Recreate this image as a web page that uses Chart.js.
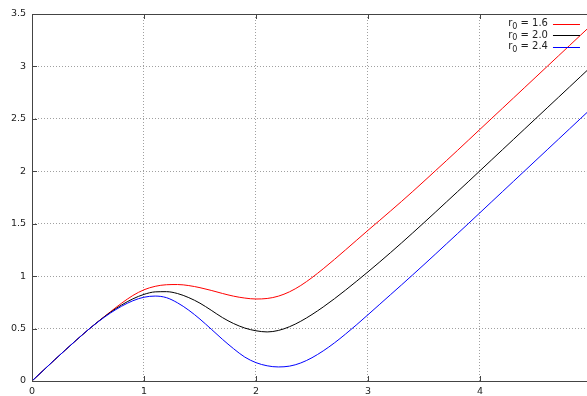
<!DOCTYPE html>
<html>
<head>
<meta charset="utf-8">
<script src="https://cdn.jsdelivr.net/npm/chart.js@4/dist/chart.umd.min.js"></script>
<style>
html, body { margin: 0; padding: 0; background: #fff; overflow: hidden; }
#wrap { width: 600px; height: 396px; }
</style>
</head>
<body>
<div id="wrap"><canvas id="chart" width="600" height="396"></canvas></div>
<script>
// x positions (step 0.1)
const xValues = [0, 0.1, 0.2, 0.3, 0.4, 0.5, 0.6, 0.7, 0.8, 0.9,
    1.0, 1.1, 1.2, 1.3, 1.4, 1.5, 1.6, 1.7, 1.8, 1.9,
    2.0, 2.1, 2.2, 2.3, 2.4, 2.5, 2.6, 2.7, 2.8, 2.9,
    3.0, 3.1, 3.2, 3.3, 3.4, 3.5, 3.6, 3.7, 3.8, 3.9,
    4.0, 4.1, 4.2, 4.3, 4.4, 4.5, 4.6, 4.7, 4.8, 4.9, 5.0];

const seriesR16 = [0, 0.1, 0.2, 0.298, 0.394, 0.487, 0.575, 0.66, 0.742, 0.815,
    0.87, 0.903, 0.918, 0.92, 0.91, 0.89, 0.864, 0.835, 0.809, 0.791,
    0.782, 0.787, 0.809, 0.851, 0.911, 0.986, 1.07, 1.159, 1.251, 1.344,
    1.437, 1.528, 1.62, 1.713, 1.808, 1.905, 2.003, 2.101, 2.2, 2.3,
    2.4, 2.5, 2.6, 2.7, 2.8, 2.9, 3.0, 3.1, 3.2, 3.3, 3.4];

const seriesR20 = [0, 0.1, 0.2, 0.298, 0.394, 0.487, 0.575, 0.655, 0.725, 0.783,
    0.826, 0.85, 0.852, 0.834, 0.795, 0.742, 0.675, 0.605, 0.548, 0.505,
    0.479, 0.468, 0.482, 0.518, 0.57, 0.634, 0.706, 0.784, 0.867, 0.953,
    1.041, 1.131, 1.223, 1.317, 1.413, 1.51, 1.608, 1.707, 1.806, 1.905,
    2.005, 2.105, 2.205, 2.305, 2.405, 2.505, 2.605, 2.705, 2.805, 2.905, 3.005];

const seriesR24 = [0, 0.1, 0.2, 0.298, 0.394, 0.487, 0.572, 0.648, 0.713, 0.765,
    0.799, 0.81, 0.795, 0.745, 0.675, 0.59, 0.495, 0.398, 0.308, 0.228,
    0.175, 0.145, 0.134, 0.142, 0.172, 0.222, 0.287, 0.363, 0.448, 0.538,
    0.632, 0.727, 0.822, 0.917, 1.013, 1.11, 1.208, 1.307, 1.406, 1.505,
    1.605, 1.705, 1.805, 1.905, 2.005, 2.105, 2.205, 2.305, 2.405, 2.505, 2.605];

const seriesLabels = ['r\u2080 = 1.6', 'r\u2080 = 2.0', 'r\u2080 = 2.4'];
const seriesColors = ['#ff0000', '#000000', '#0000ff'];
const xTicks = [0, 1, 2, 3, 4, 5];
const yTicks = [0, 0.5, 1, 1.5, 2, 2.5, 3, 3.5];

const FONT = 'DejaVu Sans, sans-serif';
const TXT = '#222';

function toPoints(ys) {
    return xValues.map((x, i) => ({ x: x, y: ys[i] }));
}

// draws "r" + lowered "0" + rest, right aligned at xr
function drawKeyText(ctx, label, xr, y) {
    const parts = label.split('\u2080');
    const big = '10px ' + FONT, small = '8px ' + FONT;
    ctx.font = big; const w1 = ctx.measureText(parts[0]).width;
    ctx.font = small; const w2 = ctx.measureText('0').width;
    ctx.font = big; const w3 = ctx.measureText(parts[1]).width;
    let x = xr - (w1 + w2 + w3);
    ctx.textAlign = 'left';
    ctx.textBaseline = 'middle';
    ctx.font = big; ctx.fillText(parts[0], x, y); x += w1;
    ctx.font = small; ctx.fillText('0', x, y + 3); x += w2;
    ctx.font = big; ctx.fillText(parts[1], x, y);
}

// gnuplot-like frame with inward tics and key
const framePlugin = {
    id: 'frame',
    afterDatasetsDraw(chart) {
        const ctx = chart.ctx;
        const a = chart.chartArea;
        const sx = chart.scales.x, sy = chart.scales.y;
        const tl = 5;
        ctx.save();
        ctx.strokeStyle = '#444';
        ctx.lineWidth = 1;
        ctx.setLineDash([]);
        ctx.strokeRect(Math.round(a.left) + 0.5, Math.round(a.top) + 0.5,
            Math.round(a.right - a.left), Math.round(a.bottom - a.top));
        ctx.beginPath();
        xTicks.forEach(v => {
            const px = Math.round(sx.getPixelForValue(v)) + 0.5;
            ctx.moveTo(px, a.bottom); ctx.lineTo(px, a.bottom - tl);
            ctx.moveTo(px, a.top); ctx.lineTo(px, a.top + tl);
        });
        yTicks.forEach(v => {
            const py = Math.round(sy.getPixelForValue(v)) + 0.5;
            ctx.moveTo(a.left, py); ctx.lineTo(a.left + tl, py);
            ctx.moveTo(a.right, py); ctx.lineTo(a.right - tl, py);
        });
        ctx.stroke();
        ctx.restore();
    },
    afterDraw(chart) {
        const ctx = chart.ctx;
        const a = chart.chartArea;
        ctx.save();
        chart.data.datasets.forEach((ds, i) => {
            const y = a.top + 9.5 + i * 11.7;
            ctx.fillStyle = TXT;
            drawKeyText(ctx, ds.label, a.right - 44, y);
            ctx.strokeStyle = ds.borderColor;
            ctx.lineWidth = 1;
            ctx.beginPath();
            ctx.moveTo(a.right - 39, Math.round(y) + 0.5);
            ctx.lineTo(a.right - 12, Math.round(y) + 0.5);
            ctx.stroke();
        });
        ctx.restore();
    }
};

const datasets = [seriesR16, seriesR20, seriesR24].map((s, i) => ({
    label: seriesLabels[i],
    data: toPoints(s),
    borderColor: seriesColors[i],
    borderWidth: 1,
    pointRadius: 0,
    cubicInterpolationMode: 'monotone',
    order: 2 - i
}));

new Chart(document.getElementById('chart'), {
    type: 'line',
    data: { datasets: datasets },
    options: {
        responsive: false,
        animation: false,
        events: [],
        layout: { padding: { top: 14, right: 8, left: 0, bottom: 0 } },
        plugins: { legend: { display: false }, tooltip: { enabled: false } },
        scales: {
            x: {
                type: 'linear',
                min: 0, max: 5,
                afterFit: s => { s.height = 15; },
                afterBuildTicks: s => { s.ticks = xTicks.map(v => ({ value: v })); },
                ticks: { padding: 5, color: TXT, font: { family: FONT, size: 9.5 }, maxRotation: 0,
                    callback: v => String(v) },
                grid: { color: '#a0a0a0', drawTicks: false },
                border: { display: false, dash: [1, 2] }
            },
            y: {
                min: 0, max: 3.5,
                afterFit: s => { s.width = 32; },
                afterBuildTicks: s => { s.ticks = yTicks.map(v => ({ value: v })); },
                ticks: { padding: 6, color: TXT, font: { family: FONT, size: 9.5 },
                    callback: v => String(v) },
                grid: { color: '#a0a0a0', drawTicks: false },
                border: { display: false, dash: [1, 2] }
            }
        }
    },
    plugins: [framePlugin]
});
</script>
</body>
</html>
